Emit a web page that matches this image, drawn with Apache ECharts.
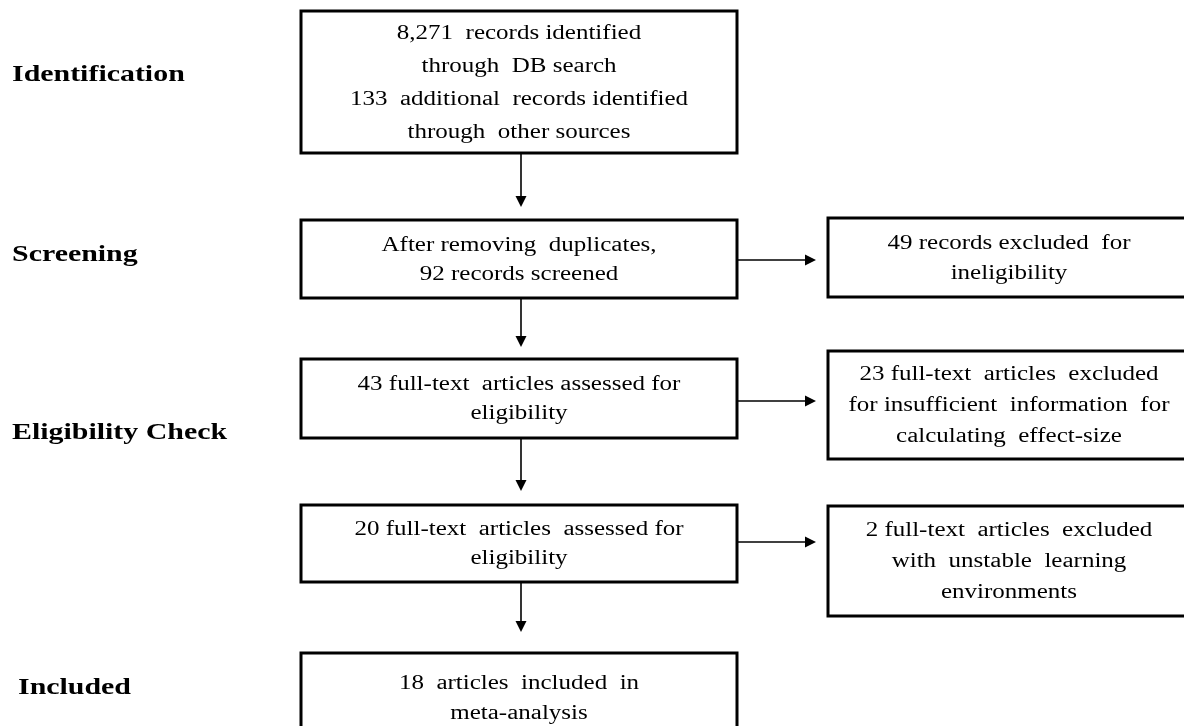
<!DOCTYPE html>
<html>
<head>
<meta charset="utf-8">
<script src="https://cdn.jsdelivr.net/npm/echarts@6/dist/echarts.min.js"></script>
<style>
html,body{margin:0;padding:0;background:#fff;}
#chart{width:1184px;height:726px;}
</style>
</head>
<body>
<div id="chart"></div>
<script>
// ---- content ----
const stages = ['Identification', 'Screening', 'Eligibility Check', 'Included'];
const mainSteps = [
  '8,271  records identified\nthrough  DB search\n133  additional  records identified\nthrough  other sources',
  'After removing  duplicates,\n92 records screened',
  '43 full-text  articles assessed for\neligibility',
  '20 full-text  articles  assessed for\neligibility',
  '18  articles  included  in\nmeta-analysis'
];
const exclusions = [
  '49 records excluded  for\nineligibility',
  '23 full-text  articles  excluded\nfor insufficient  information  for\ncalculating  effect-size',
  '2 full-text  articles  excluded\nwith  unstable  learning\nenvironments'
];

// ---- layout (diagram coordinates) ----
const mainX = [301, 737];
const mainRows = [[11, 153], [220, 298], [359, 438], [505, 582], [653, 742]];
const mainLineH = [33, 29, 29, 29, 30];
const sideX = [828, 1190];
const sideRows = [[218, 297], [351, 459], [506, 616]];
const sideLineH = [30, 31, 31];
const stageX = [12, 12, 12, 18];
const stageY = [75, 255, 433, 688];
const arrowX = 521;
const downTips = [207, 347, 491, 632];
const rightY = [260, 401, 542];
const rightTip = 816;

const TXT_FONT = '20px "Liberation Serif", "Times New Roman", serif';
const TXT_SCALE = 1.25;

const boxData = [];
mainSteps.forEach((t, i) => boxData.push({ value: [mainX[0], mainRows[i][0], mainX[1], mainRows[i][1]], text: t, lh: mainLineH[i] }));
exclusions.forEach((t, i) => boxData.push({ value: [sideX[0], sideRows[i][0], sideX[1], sideRows[i][1]], text: t, lh: sideLineH[i] }));

const arrowData = [];
for (let i = 0; i < downTips.length; i++) arrowData.push({ value: [arrowX, mainRows[i][1], arrowX, downTips[i]] });
for (let i = 0; i < rightY.length; i++) arrowData.push({ value: [mainX[1], rightY[i], rightTip, rightY[i]] });

const stageData = stages.map((s, i) => ({ value: [stageX[i], stageY[i]], name: s }));

const chart = echarts.init(document.getElementById('chart'), null, { renderer: 'canvas' });

chart.setOption({
  animation: false,
  backgroundColor: '#ffffff',
  grid: { left: 0, right: 0, top: 0, bottom: 0 },
  xAxis: { type: 'value', min: 0, max: 1184, show: false },
  yAxis: { type: 'value', min: 0, max: 726, inverse: true, show: false },
  series: [
    {
      type: 'custom',
      clip: false,
      data: boxData,
      renderItem: function (params, api) {
        const d = boxData[params.dataIndex];
        const p0 = api.coord([api.value(0), api.value(1)]);
        const p1 = api.coord([api.value(2), api.value(3)]);
        return {
          type: 'group',
          children: [
            {
              type: 'rect',
              shape: { x: p0[0], y: p0[1], width: p1[0] - p0[0], height: p1[1] - p0[1] },
              style: { fill: '#ffffff', stroke: '#000000', lineWidth: 3 }
            },
            {
              type: 'text',
              x: (p0[0] + p1[0]) / 2,
              y: (p0[1] + p1[1]) / 2 + 1,
              scaleX: TXT_SCALE,
              style: {
                text: d.text, x: 0, y: 0,
                textAlign: 'center', textVerticalAlign: 'middle',
                font: TXT_FONT, fill: '#000000', lineHeight: d.lh
              }
            }
          ]
        };
      }
    },
    {
      type: 'custom',
      clip: false,
      data: arrowData,
      renderItem: function (params, api) {
        const a = api.coord([api.value(0), api.value(1)]);
        const b = api.coord([api.value(2), api.value(3)]);
        const dx = b[0] - a[0], dy = b[1] - a[1];
        const len = Math.sqrt(dx * dx + dy * dy);
        const ux = dx / len, uy = dy / len;
        const L = 11, W = 5.5;
        const base = [b[0] - ux * L, b[1] - uy * L];
        return {
          type: 'group',
          children: [
            { type: 'line', shape: { x1: a[0], y1: a[1], x2: base[0], y2: base[1] }, style: { stroke: '#000', lineWidth: 1.6 } },
            { type: 'polygon', shape: { points: [b, [base[0] - uy * W, base[1] + ux * W], [base[0] + uy * W, base[1] - ux * W]] }, style: { fill: '#000' } }
          ]
        };
      }
    },
    {
      type: 'custom',
      clip: false,
      data: stageData,
      renderItem: function (params, api) {
        const p = api.coord([api.value(0), api.value(1)]);
        return {
          type: 'text',
          x: p[0], y: p[1],
          scaleX: 1.3,
          style: {
            text: stages[params.dataIndex], x: 0, y: 0,
            textAlign: 'left', textVerticalAlign: 'middle',
            font: 'bold 23px "Liberation Serif", "Times New Roman", serif', fill: '#000'
          }
        };
      }
    }
  ]
});
</script>
</body>
</html>
